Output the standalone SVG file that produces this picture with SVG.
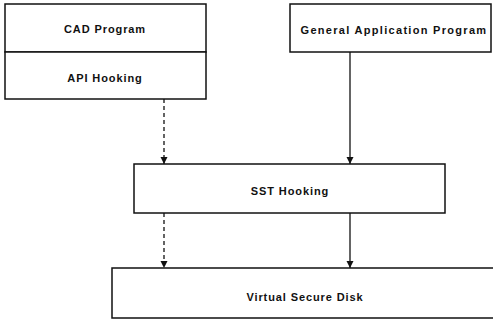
<svg xmlns="http://www.w3.org/2000/svg" width="493" height="322" viewBox="0 0 493 322">
<defs>
<marker id="ah" markerWidth="9" markerHeight="9" refX="7" refY="4" orient="auto" markerUnits="userSpaceOnUse">
<path d="M0,0.5 L7,4 L0,7.5 z" fill="#111"/>
</marker>
<style>
.box{fill:#fff;stroke:#111;stroke-width:1.5}
.t{font-family:"Liberation Sans",Arial,sans-serif;font-size:11px;font-weight:bold;fill:#111;text-anchor:middle;letter-spacing:0.9px}
.c{stroke:#111;stroke-width:1.3;fill:none}
.d{stroke-dasharray:4 3}
</style>
</defs>
<rect width="493" height="322" fill="#fff"/>
<g id="connectors">
<line class="c d" x1="164" y1="99" x2="164" y2="164" marker-end="url(#ah)"/>
<line class="c" x1="350" y1="52" x2="350" y2="164" marker-end="url(#ah)"/>
<line class="c d" x1="164" y1="213" x2="164" y2="268" marker-end="url(#ah)"/>
<line class="c" x1="350" y1="213" x2="350" y2="268" marker-end="url(#ah)"/>
</g>
<g id="cad">
<rect class="box" x="5" y="4" width="201" height="48"/>
<text class="t" x="105" y="33">CAD Program</text>
</g>
<g id="api">
<rect class="box" x="5" y="52" width="201" height="47"/>
<text class="t" x="105" y="82">API Hooking</text>
</g>
<g id="general">
<rect class="box" x="290" y="4" width="201" height="48"/>
<text class="t" x="394" y="34" style="letter-spacing:1.3px">General Application Program</text>
</g>
<g id="sst">
<rect class="box" x="134" y="164" width="311" height="49"/>
<text class="t" x="290" y="195">SST Hooking</text>
</g>
<g id="vsd">
<path class="box" d="M500,268 H112 V318 H500"/>
<text class="t" x="305" y="301">Virtual Secure Disk</text>
</g>
</svg>
